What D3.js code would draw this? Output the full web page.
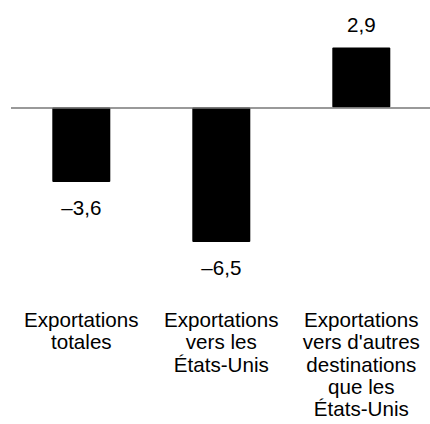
<!DOCTYPE html>
<html>
<head>
<meta charset="utf-8">
<script src="https://cdn.jsdelivr.net/npm/d3@7"></script>
<style>
  html, body { margin: 0; padding: 0; background: #fff; }
  svg { display: block; }
  text { font-family: "Liberation Sans", Arial, Helvetica, sans-serif; fill: #000; }
</style>
</head>
<body>
<svg id="chart" width="430" height="424"></svg>
<script>
const categories = [
  ["Exportations", "totales"],
  ["Exportations", "vers les", "États-Unis"],
  ["Exportations", "vers d'autres", "destinations", "que les", "États-Unis"]
];
const values = [-3.6, -6.5, 2.9];
const valueLabels = ["–3,6", "–6,5", "2,9"];

const svg = d3.select("#chart");

const x = d3.scaleBand()
  .domain(d3.range(values.length))
  .range([11.3, 431.3])
  .paddingInner(82 / 140)
  .paddingOuter(41 / 140);

const pxPerUnit = 20.7;
const zeroY = 107.5;
const y = d3.scaleLinear()
  .domain([-6.5, 2.9])
  .range([zeroY + 6.5 * pxPerUnit, zeroY - 2.9 * pxPerUnit]);

const fs = 20.6;

// bars
svg.append("g").selectAll("rect")
  .data(values)
  .join("rect")
  .attr("x", (d, i) => x(i))
  .attr("width", x.bandwidth())
  .attr("y", d => Math.min(y(d), y(0)))
  .attr("height", d => Math.abs(y(d) - y(0)))
  .attr("rx", 1)
  .attr("fill", "#000");

// zero line
svg.append("line")
  .attr("x1", 11).attr("x2", 430)
  .attr("y1", y(0) + 0.5).attr("y2", y(0) + 0.5)
  .attr("stroke", "#777")
  .attr("stroke-width", 1.3);

// value labels
svg.append("g").selectAll("text")
  .data(values)
  .join("text")
  .attr("x", (d, i) => x(i) + x.bandwidth() / 2)
  .attr("y", d => d < 0 ? y(d) + 32.5 : y(d) - 15)
  .attr("text-anchor", "middle")
  .attr("font-size", fs)
  .text((d, i) => valueLabels[i]);

// category labels
const cat = svg.append("g").selectAll("text")
  .data(categories)
  .join("text")
  .attr("text-anchor", "middle")
  .attr("font-size", fs)
  .attr("y", 327);
cat.each(function(lines, i) {
  const t = d3.select(this);
  lines.forEach((ln, j) => {
    t.append("tspan")
      .attr("x", x(i) + x.bandwidth() / 2)
      .attr("y", 327 + j * 22.3)
      .text(ln);
  });
});
</script>
</body>
</html>
